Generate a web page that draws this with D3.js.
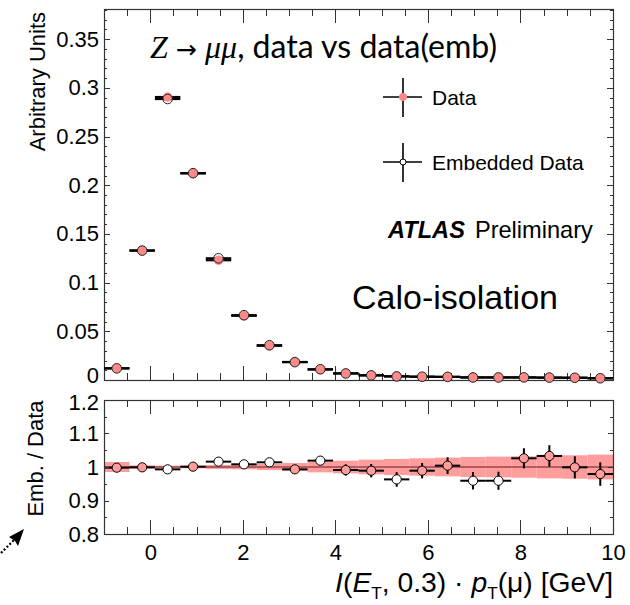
<!DOCTYPE html>
<html><head><meta charset="utf-8">
<script src="https://cdn.jsdelivr.net/npm/d3@7"></script>
<style>
body{margin:0;background:#fff;}
svg{display:block;}
text{font-family:"Liberation Sans",Arial,Helvetica,sans-serif;fill:#000;}
</style></head>
<body><svg id="c" width="630" height="605"></svg>
<script>
// ---- data ----
const binCenters = [-0.725,-0.175,0.375,0.925,1.475,2.025,2.575,3.125,3.675,4.225,4.775,5.325,5.875,6.425,6.975,7.525,8.075,8.625,9.175,9.725];
const binHalfWidth = 0.275;
const dataVals = [0.012,0.133,0.2906,0.2122,0.123,0.066,0.0352,0.0185,0.0108,0.0068,0.0048,0.0038,0.0034,0.0032,0.0027,0.0027,0.0026,0.0024,0.0023,0.0018];
const ratioVals = [0.998,0.999,0.993,1.001,1.016,1.008,1.014,0.993,1.019,0.991,0.989,0.963,0.989,1.004,0.959,0.959,1.026,1.033,0.999,0.979];
const ratioErr = [0.012,0.004,0.003,0.004,0.005,0.006,0.008,0.011,0.014,0.017,0.02,0.022,0.023,0.025,0.026,0.027,0.03,0.032,0.033,0.035];
const bandErr = [0.015,0.005,0.004,0.004,0.006,0.007,0.009,0.012,0.016,0.019,0.022,0.024,0.026,0.028,0.030,0.031,0.032,0.034,0.035,0.037];
const xTicks = [0,2,4,6,8,10];
const yTopTicks = [0,0.05,0.1,0.15,0.2,0.25,0.3,0.35];
const yTopLabels = ["0","0.05","0.1","0.15","0.2","0.25","0.3","0.35"];
const yRatTicks = [0.8,0.9,1.0,1.1,1.2];
const yRatLabels = ["0.8","0.9","1","1.1","1.2"];

const pink = "#fa8a8a", bandCol = "#ff9d9d";
const svg = d3.select("#c");
const L = 104, R = 613;
const topT = 9, topB = 380, ratT = 400, ratB = 534;
const x = d3.scaleLinear().domain([-1,10]).range([L,R]);
const yTop = d3.scaleLinear().domain([0,0.381]).range([topB,topT]);
const yRat = d3.scaleLinear().domain([0.8,1.2]).range([ratB,ratT]);

function fit(sel, target){
  const fs = parseFloat(sel.attr("font-size"));
  const w = sel.node().getComputedTextLength();
  if (w > 0) {
    const k = target / w;
    sel.attr("font-size", fs * k);
    sel.selectAll("tspan").each(function(){
      const t = d3.select(this);
      const f = t.attr("font-size"); if (f) t.attr("font-size", parseFloat(f)*k);
      const dy = t.attr("dy"); if (dy) t.attr("dy", parseFloat(dy)*k);
    });
  }
}

function frameTicks(yScale, yT, yB, yMajor, yMinorStep, xMajLen, xMinLen, yMajLen, yMinLen){
  const g = svg.append("g").attr("stroke","#333").attr("stroke-width",1).attr("fill","none");
  const xMinor = d3.range(-1,10.001,0.5);
  xMinor.forEach(v=>{
    const maj = Math.abs(v/2 - Math.round(v/2))<1e-6;
    const len = maj?xMajLen:xMinLen;
    const px = Math.round(x(v))+0.5;
    g.append("line").attr("x1",px).attr("x2",px).attr("y1",yB).attr("y2",yB-len);
    g.append("line").attr("x1",px).attr("x2",px).attr("y1",yT).attr("y2",yT+len);
  });
  const [d0,d1] = yScale.domain();
  const yMin = d3.range(d0, d1+1e-9, yMinorStep);
  yMin.forEach(v=>{
    const maj = yMajor.some(m=>Math.abs(m-v)<1e-6);
    const len = maj?yMajLen:yMinLen;
    const py = Math.round(yScale(v))+0.5;
    g.append("line").attr("y1",py).attr("y2",py).attr("x1",L).attr("x2",L+len);
    g.append("line").attr("y1",py).attr("y2",py).attr("x1",R).attr("x2",R-len);
  });
  svg.append("rect").attr("x",L+0.5).attr("y",yT+0.5).attr("width",R-L).attr("height",yB-yT)
    .attr("fill","none").attr("stroke","#333").attr("stroke-width",1.2);
}

// ---- top panel ----
frameTicks(yTop, topT, topB, yTopTicks, 0.01, 14, 7, 6, 3);
const axTop = d3.axisLeft(yTop).tickValues(yTopTicks).tickFormat((d,i)=>yTopLabels[i]).tickSize(0).tickPadding(5);
const gAT = svg.append("g").attr("transform",`translate(${L},0)`).call(axTop);
gAT.select(".domain").remove();
gAT.selectAll("text").attr("font-size",22).attr("font-family","Liberation Sans, Arial");
gAT.selectAll(".tick").filter(d=>d===0).select("text").attr("dy","0.12em");

const embVals = dataVals.map((d,i)=>d*ratioVals[i]);
const gTop = svg.append("g");
binCenters.forEach((c,i)=>{
  gTop.append("line").attr("x1",x(c-binHalfWidth)).attr("x2",x(c+binHalfWidth))
    .attr("y1",yTop(dataVals[i])).attr("y2",yTop(dataVals[i])).attr("stroke","#000").attr("stroke-width",2.2);
  gTop.append("line").attr("x1",x(c-binHalfWidth)).attr("x2",x(c+binHalfWidth))
    .attr("y1",yTop(embVals[i])).attr("y2",yTop(embVals[i])).attr("stroke","#000").attr("stroke-width",2.2);
});
gTop.selectAll("circle.d").data(dataVals).join("circle").attr("class","d")
  .attr("cx",(d,i)=>x(binCenters[i])).attr("cy",d=>yTop(d)).attr("r",4.8).attr("fill",pink);
gTop.selectAll("circle.e").data(embVals).join("circle").attr("class","e")
  .attr("cx",(d,i)=>x(binCenters[i])).attr("cy",d=>yTop(d)).attr("r",4.8).attr("fill","none").attr("stroke","#222").attr("stroke-width",1);

// y title
svg.append("text").attr("transform",`translate(45,${topT+3}) rotate(-90)`).attr("text-anchor","end")
  .attr("font-size",22).text("Arbitrary Units");

// title
const tt = svg.append("text").attr("x",150).attr("y",58).attr("font-size",28);
tt.append("tspan").attr("font-family","Liberation Serif, DejaVu Serif, serif").attr("font-style","italic").text("Z");
tt.append("tspan").attr("font-family","DejaVu Sans, sans-serif").attr("font-size",22).text(" \u2192 ");
tt.append("tspan").attr("font-family","Liberation Serif, DejaVu Serif, serif").attr("font-style","italic").text("\u03bc\u03bc");
tt.append("tspan").attr("font-family","Lato, Open Sans, sans-serif").text(", data vs data(emb)");
fit(tt, 347);

// legend
const lg = svg.append("g");
[[97,"Data",true],[162,"Embedded Data",false]].forEach(([yy,lab,isData])=>{
  lg.append("line").attr("x1",383).attr("x2",422).attr("y1",yy).attr("y2",yy).attr("stroke","#000").attr("stroke-width",1.6);
  lg.append("line").attr("x1",403).attr("x2",403).attr("y1",yy-19).attr("y2",yy+20).attr("stroke","#000").attr("stroke-width",1.6);
  if(isData) lg.append("circle").attr("cx",403).attr("cy",yy).attr("r",4).attr("fill",pink);
  else lg.append("circle").attr("cx",403).attr("cy",yy).attr("r",3).attr("fill","#fff").attr("stroke","#000").attr("stroke-width",1);
  lg.append("text").attr("x",432).attr("y",yy+8).attr("font-size",21).text(lab);
});
const at = svg.append("text").attr("x",388).attr("y",238).attr("font-size",21);
at.append("tspan").attr("font-weight","bold").attr("font-style","italic").text("ATLAS");
at.append("tspan").attr("dx",10).text("Preliminary");
fit(at, 195);

const calo = svg.append("text").attr("x",352).attr("y",309).attr("font-size",32).attr("font-family","Lato, Open Sans, sans-serif").text("Calo-isolation");
fit(calo, 206);

// ---- ratio panel ----
const gR = svg.append("g");
binCenters.forEach((c,i)=>{
  gR.append("rect").attr("x",x(c-binHalfWidth)).attr("width",x(c+binHalfWidth)-x(c-binHalfWidth))
    .attr("y",yRat(1+bandErr[i])).attr("height",yRat(1-bandErr[i])-yRat(1+bandErr[i])).attr("fill",bandCol);
});
gR.append("line").attr("x1",L).attr("x2",R).attr("y1",yRat(1)).attr("y2",yRat(1)).attr("stroke","#6a1a1a").attr("stroke-width",1.2);
frameTicks(yRat, ratT, ratB, yRatTicks, 0.05, 14, 7, 5, 3);
binCenters.forEach((c,i)=>{
  gR.append("line").attr("x1",x(c-binHalfWidth)).attr("x2",x(c+binHalfWidth))
    .attr("y1",yRat(ratioVals[i])).attr("y2",yRat(ratioVals[i])).attr("stroke","#000").attr("stroke-width",2);
  gR.append("line").attr("x1",x(c)).attr("x2",x(c))
    .attr("y1",yRat(ratioVals[i]-ratioErr[i])).attr("y2",yRat(ratioVals[i]+ratioErr[i])).attr("stroke","#000").attr("stroke-width",2);
});
gR.selectAll("circle").data(ratioVals).join("circle")
  .attr("cx",(d,i)=>x(binCenters[i])).attr("cy",d=>yRat(d)).attr("r",4.6)
  .attr("fill",(d,i)=>Math.abs(d-1)>bandErr[i]?"#fff":bandCol).attr("stroke","#000").attr("stroke-width",1);

const axR = d3.axisLeft(yRat).tickValues(yRatTicks).tickFormat((d,i)=>yRatLabels[i]).tickSize(0).tickPadding(5);
const gAR = svg.append("g").attr("transform",`translate(${L},0)`).call(axR);
gAR.select(".domain").remove();
gAR.selectAll("text").attr("font-size",22);
gAR.selectAll(".tick").filter(d=>Math.abs(d-1.2)<1e-9).select("text").attr("dy","0.45em");

const axX = d3.axisBottom(x).tickValues(xTicks).tickSize(0).tickPadding(10);
const gX = svg.append("g").attr("transform",`translate(0,${ratB})`).call(axX);
gX.select(".domain").remove();
gX.selectAll("text").attr("font-size",22);

svg.append("text").attr("transform",`translate(43,${(ratT+517)/2}) rotate(-90)`).attr("text-anchor","middle")
  .attr("font-size",22).text("Emb. / Data");

// x title
const xt = svg.append("text").attr("x",R).attr("y",592).attr("text-anchor","end").attr("font-size",28);
xt.append("tspan").attr("font-style","italic").text("I");
xt.append("tspan").text("(");
xt.append("tspan").attr("font-style","italic").text("E");
xt.append("tspan").attr("font-size",17).attr("dy",7).text("T");
xt.append("tspan").attr("dy",-7).text(", 0.3) \u00b7 ");
xt.append("tspan").attr("font-style","italic").text("p");
xt.append("tspan").attr("font-size",17).attr("dy",7).text("T");
xt.append("tspan").attr("dy",-7).text("(\u03bc) [GeV]");
fit(xt, 278);

// corner cursor decoration
const cg = svg.append("g");
cg.append("path").attr("d","M9,537 L24,529 L18,546 L15,541 Z").attr("fill","#000");
cg.append("path").attr("d","M1,553 L14,540").attr("stroke","#000").attr("stroke-width",2.2).attr("stroke-dasharray","2,2");
</script></body></html>
